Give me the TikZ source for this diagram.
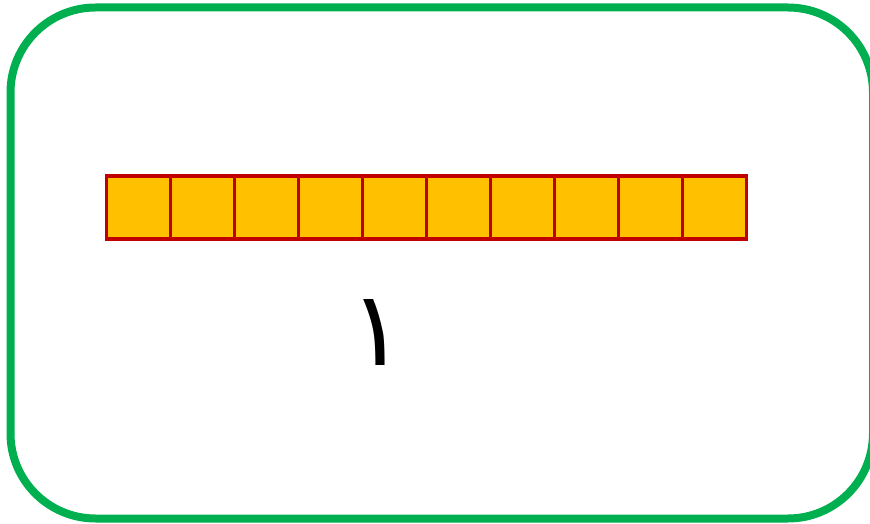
\documentclass[tikz,border=0pt]{standalone}
\usepackage{fontspec}
\TeXXeTstate=1
\newfontfamily\arabicfont[Script=Arabic]{DejaVu Sans}
\definecolor{framegreen}{RGB}{0,176,80}
\definecolor{cellfill}{RGB}{255,192,0}
\definecolor{cellline}{RGB}{192,0,0}
\tikzset{
  frame/.style={draw=framegreen, line width=8pt, rounded corners=85pt},
  cell/.style={draw=cellline, fill=cellfill, line width=3.8pt, minimum width=64pt, minimum height=63pt, inner sep=0pt, outer sep=0pt},
  digit/.style={font=\arabicfont\fontsize{104}{110}\selectfont, inner sep=0pt}
}
\begin{document}
\begin{tikzpicture}[x=1pt,y=-1pt]
\useasboundingbox (0,0) rectangle (870,524);
\draw[frame] (10.5,7.5) rectangle (873,518.5);
\foreach \i in {0,...,9} {
  \node[cell] (c\i) at ({138.5+64*\i},207.5) {};
}
\node[digit] (d) at (377,332) {\beginR ١\endR};
\end{tikzpicture}
\end{document}
